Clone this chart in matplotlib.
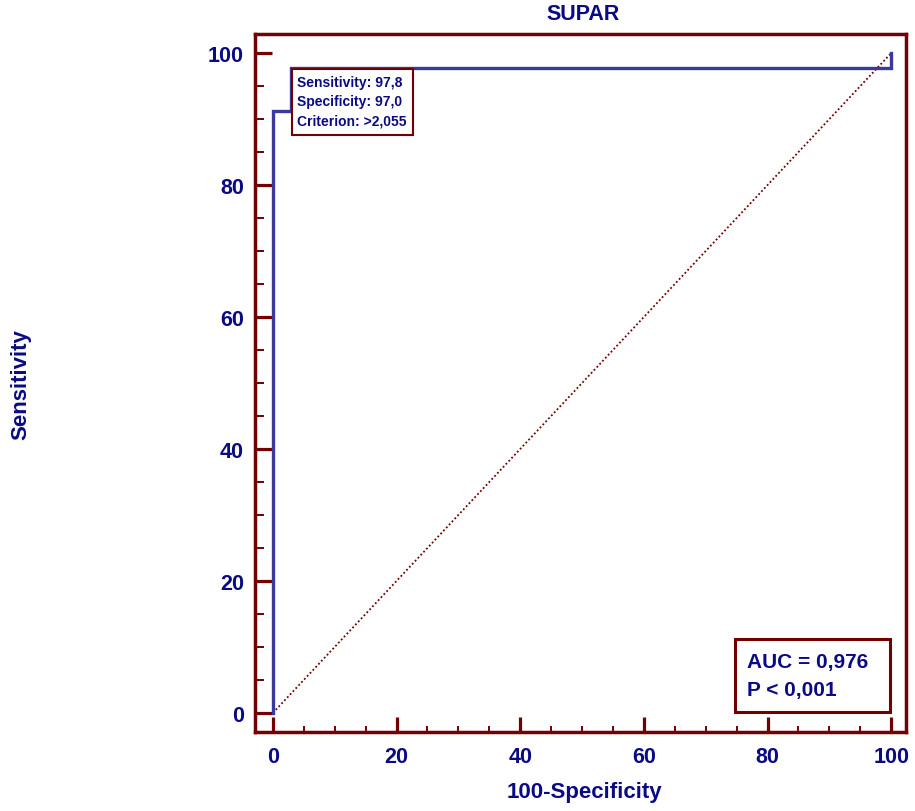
import matplotlib
matplotlib.use("Agg")
import matplotlib.pyplot as plt
from matplotlib.patches import Rectangle
from matplotlib.ticker import MultipleLocator

plt.rcParams['font.family'] = ['Liberation Sans', 'DejaVu Sans']

# ROC curve data (100-Specificity, Sensitivity)
fpr = [0, 0, 3.0, 3.0, 100, 100]
tpr = [0, 91.3, 91.3, 97.8, 97.8, 100]
diag_x = [0, 100]
diag_y = [0, 100]
ticks = [0, 20, 40, 60, 80, 100]
title = "SUPAR"
xlabel = "100-Specificity"
ylabel = "Sensitivity"
point_text = ["Sensitivity: 97,8", "Specificity: 97,0", "Criterion: >2,055"]
auc_text = ["AUC = 0,976", "P < 0,001"]

navy = '#0a0a84'
red = '#730000'
blue = '#3a3a9c'

fig = plt.figure(figsize=(9.15, 8.12), dpi=100)
ax = fig.add_axes([255/915, 79/812, 651/915, 698/812])

ax.plot(fpr, tpr, color=blue, lw=2.4, solid_joinstyle='miter', zorder=3)
ax.plot(diag_x, diag_y, color=red, lw=1.3, ls=(0, (1, 1.3)), zorder=2)

ax.set_xlim(-2.9, 102.4)
ax.set_ylim(-2.9, 102.9)
ax.set_xticks(ticks)
ax.set_yticks(ticks)
ax.xaxis.set_minor_locator(MultipleLocator(5))
ax.yaxis.set_minor_locator(MultipleLocator(5))
for s in ax.spines.values():
    s.set_color(red)
    s.set_linewidth(2.5)
ax.tick_params(which='major', direction='in', width=2.3, color=red,
               labelsize=15.5, labelcolor=navy)
ax.tick_params(which='minor', direction='in', width=1.4, color=red)
ax.tick_params(axis='y', which='major', length=12, pad=8)
ax.tick_params(axis='y', which='minor', length=6.5)
ax.tick_params(axis='x', which='major', length=11, pad=10)
ax.tick_params(axis='x', which='minor', length=4.5)
ax.tick_params(top=False, right=False, which='both')
for lab in ax.get_xticklabels() + ax.get_yticklabels():
    lab.set_fontweight('bold')

fig.text(583/915, 1 - 14/812, title, ha='center', va='center', fontsize=15.5,
         fontweight='bold', color=navy)
fig.text(584/915, 1 - 793/812, xlabel, ha='center', va='center', fontsize=16,
         fontweight='bold', color=navy)
fig.text(21/915, 1 - 385/812, ylabel, ha='center', va='center', fontsize=16,
         fontweight='bold', color=navy, rotation=90)

# criterion box
ax.add_patch(Rectangle((0.0568, 0.8553), 0.1859, 0.0946, transform=ax.transAxes,
                       facecolor='white', edgecolor=red, lw=1.5, zorder=4))
for i, t in enumerate(point_text):
    ax.text(0.065, 0.9312 - i * 0.0279, t, transform=ax.transAxes, ha='left', va='center',
            fontsize=10, fontweight='bold', color=navy, zorder=5)

# AUC box
ax.add_patch(Rectangle((0.737, 0.0287), 0.238, 0.1045, transform=ax.transAxes,
                       facecolor='white', edgecolor=red, lw=2.2, zorder=4))
for i, t in enumerate(auc_text):
    ax.text(0.756, 0.1017 - i * 0.0401, t, transform=ax.transAxes, ha='left', va='center',
            fontsize=15, fontweight='bold', color=navy, zorder=5)

fig.savefig('out.png', dpi=100)
